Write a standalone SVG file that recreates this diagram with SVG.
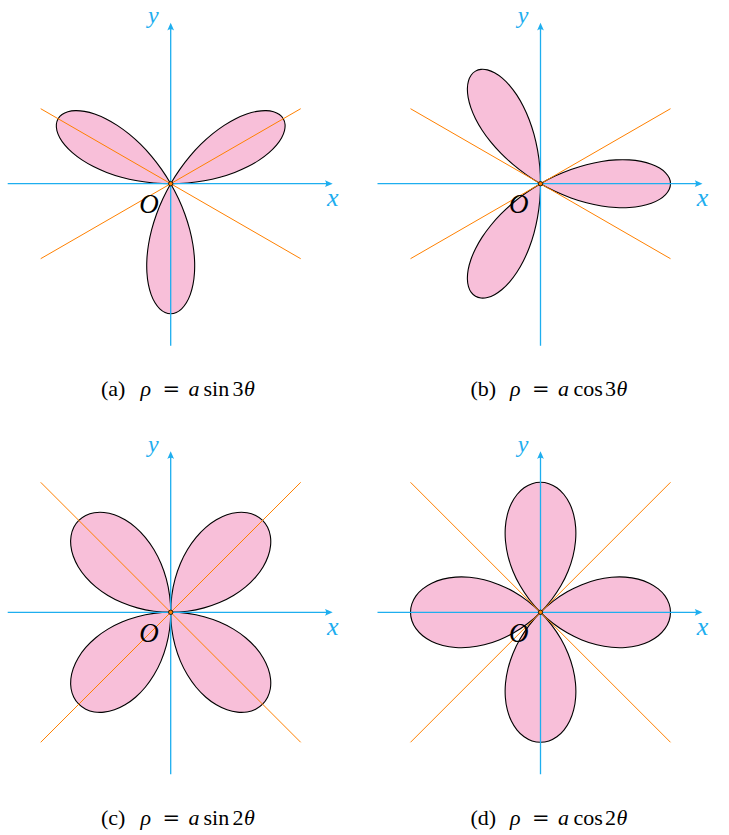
<svg xmlns="http://www.w3.org/2000/svg" xmlns:xlink="http://www.w3.org/1999/xlink" width="729" height="835" viewBox="0 0 729 835">
<style>
.petal{fill:#f8bfd9;stroke:#000;stroke-width:1.1}
.axis{stroke:#1eaeef;stroke-width:1.3;fill:none}
.ah{fill:#1eaeef;stroke:none}
.ray{stroke:#ff8000;stroke-width:1;fill:none}
.dot{fill:#ff8000;stroke:#000;stroke-width:0.8}
.lab{font-family:"Liberation Serif",serif;font-style:italic;font-size:26px;fill:#1eaeef;text-anchor:middle}
.ylab{font-family:"Liberation Serif",serif;font-style:italic;font-size:24px;fill:#1eaeef;text-anchor:middle}
.olab{font-family:"Liberation Serif",serif;font-style:italic;font-size:27px;fill:#000;text-anchor:middle}
.cap{font-family:"Liberation Serif",serif;font-size:22px;fill:#000}
.it{font-style:italic}
.eq{font-family:"DejaVu Serif",serif;font-size:21px}
</style>
<defs>
<path id="p3" d="M0,0 C4.9,2.83 9.97,5.47 15.05,7.84 C20.13,10.21 25.34,12.35 30.49,14.22 C35.64,16.09 40.86,17.71 45.96,19.04 C51.06,20.38 56.16,21.44 61.08,22.23 C66,23.02 70.86,23.54 75.48,23.8 C80.1,24.06 84.59,24.04 88.79,23.79 C92.99,23.54 97.01,23.03 100.69,22.32 C104.37,21.61 107.81,20.66 110.87,19.55 C113.93,18.44 116.7,17.12 119.07,15.68 C121.44,14.25 123.47,12.62 125.09,10.94 C126.71,9.26 127.95,7.44 128.77,5.62 C129.59,3.8 130,1.873 130,0 C130,-1.873 129.59,-3.8 128.77,-5.62 C127.95,-7.44 126.71,-9.26 125.09,-10.94 C123.47,-12.62 121.44,-14.25 119.07,-15.68 C116.7,-17.12 113.93,-18.44 110.87,-19.55 C107.81,-20.66 104.37,-21.61 100.69,-22.32 C97.01,-23.03 92.99,-23.54 88.79,-23.79 C84.59,-24.04 80.1,-24.06 75.48,-23.8 C70.86,-23.54 66,-23.02 61.08,-22.23 C56.16,-21.44 51.06,-20.38 45.96,-19.04 C40.86,-17.71 35.64,-16.09 30.49,-14.22 C25.34,-12.35 20.13,-10.21 15.05,-7.84 C9.97,-5.47 4.9,-2.83 0,0 Z"/>
<path id="p2" d="M0,0 C4,4 8.31,7.78 12.76,11.19 C17.21,14.6 21.93,17.74 26.7,20.48 C31.47,23.22 36.44,25.64 41.37,27.64 C46.3,29.64 51.36,31.27 56.29,32.5 C61.23,33.73 66.21,34.55 70.98,35 C75.75,35.45 80.47,35.49 84.92,35.18 C89.37,34.87 93.7,34.16 97.67,33.15 C101.64,32.14 105.4,30.76 108.75,29.14 C112.11,27.52 115.18,25.56 117.8,23.43 C120.43,21.31 122.7,18.89 124.5,16.39 C126.3,13.89 127.69,11.16 128.61,8.43 C129.53,5.7 130,2.81 130,0 C130,-2.81 129.53,-5.7 128.61,-8.43 C127.69,-11.16 126.3,-13.89 124.5,-16.39 C122.7,-18.89 120.43,-21.31 117.8,-23.43 C115.18,-25.56 112.11,-27.52 108.75,-29.14 C105.4,-30.76 101.64,-32.14 97.67,-33.15 C93.7,-34.16 89.37,-34.87 84.92,-35.18 C80.47,-35.49 75.75,-35.45 70.98,-35 C66.21,-34.55 61.23,-33.73 56.29,-32.5 C51.36,-31.27 46.3,-29.64 41.37,-27.64 C36.44,-25.64 31.47,-23.22 26.7,-20.48 C21.93,-17.74 17.21,-14.6 12.76,-11.19 C8.31,-7.78 4,-4 0,0 Z"/>
<path id="ahd" d="M0,0 L-7.7,-3.4 C-6.2,-1.2 -6.2,1.2 -7.7,3.4 Z"/>
</defs>

<!-- Panel (a) -->
<g id="panel-a" transform="translate(170.7,183.7)">
  <g id="a-petals">
    <use xlink:href="#p3" class="petal" transform="rotate(-30)"/>
    <use xlink:href="#p3" class="petal" transform="rotate(-150)"/>
    <use xlink:href="#p3" class="petal" transform="rotate(90)"/>
  </g>
  <g id="a-connectors">
    <path class="axis" d="M-163,0 H158 M0,162 V-157"/>
    <use xlink:href="#ahd" class="ah" transform="translate(162,0)"/>
    <use xlink:href="#ahd" class="ah" transform="translate(0,-161) rotate(-90)"/>
    <path class="ray" d="M-130,-75 L130,75 M-130,75 L130,-75"/>
  </g>
  <circle class="dot" cx="0" cy="0" r="2.2"/>
  <text class="lab" x="162" y="22.3">x</text>
  <text class="ylab" x="-17.4" y="-160.5">y</text>
  <text class="olab" x="-21.7" y="29.3">O</text>
</g>

<!-- Panel (b) -->
<g id="panel-b" transform="translate(540.5,183.7)">
  <g id="b-petals">
    <use xlink:href="#p3" class="petal"/>
    <use xlink:href="#p3" class="petal" transform="rotate(-120)"/>
    <use xlink:href="#p3" class="petal" transform="rotate(120)"/>
  </g>
  <g id="b-connectors">
    <path class="axis" d="M-163,0 H158 M0,162 V-157"/>
    <use xlink:href="#ahd" class="ah" transform="translate(162,0)"/>
    <use xlink:href="#ahd" class="ah" transform="translate(0,-161) rotate(-90)"/>
    <path class="ray" d="M-130,-75 L130,75 M-130,75 L130,-75"/>
  </g>
  <circle class="dot" cx="0" cy="0" r="2.2"/>
  <text class="lab" x="162" y="22.3">x</text>
  <text class="ylab" x="-17.4" y="-160.5">y</text>
  <text class="olab" x="-21.7" y="29.3">O</text>
</g>

<!-- Panel (c) -->
<g id="panel-c" transform="translate(170.7,612.3)">
  <g id="c-petals">
    <use xlink:href="#p2" class="petal" transform="rotate(-45)"/>
    <use xlink:href="#p2" class="petal" transform="rotate(-135)"/>
    <use xlink:href="#p2" class="petal" transform="rotate(135)"/>
    <use xlink:href="#p2" class="petal" transform="rotate(45)"/>
  </g>
  <g id="c-connectors">
    <path class="axis" d="M-163,0 H158 M0,162 V-157"/>
    <use xlink:href="#ahd" class="ah" transform="translate(162,0)"/>
    <use xlink:href="#ahd" class="ah" transform="translate(0,-161) rotate(-90)"/>
    <path class="ray" d="M-130,-130 L130,130 M-130,130 L130,-130"/>
  </g>
  <circle class="dot" cx="0" cy="0" r="2.2"/>
  <text class="lab" x="162" y="22.3">x</text>
  <text class="ylab" x="-17.4" y="-160.5">y</text>
  <text class="olab" x="-21.7" y="29.3">O</text>
</g>

<!-- Panel (d) -->
<g id="panel-d" transform="translate(540.5,612.3)">
  <g id="d-petals">
    <use xlink:href="#p2" class="petal"/>
    <use xlink:href="#p2" class="petal" transform="rotate(-90)"/>
    <use xlink:href="#p2" class="petal" transform="rotate(180)"/>
    <use xlink:href="#p2" class="petal" transform="rotate(90)"/>
  </g>
  <g id="d-connectors">
    <path class="axis" d="M-163,0 H158 M0,162 V-157"/>
    <use xlink:href="#ahd" class="ah" transform="translate(162,0)"/>
    <use xlink:href="#ahd" class="ah" transform="translate(0,-161) rotate(-90)"/>
    <path class="ray" d="M-130,-130 L130,130 M-130,130 L130,-130"/>
  </g>
  <circle class="dot" cx="0" cy="0" r="2.2"/>
  <text class="lab" x="162" y="22.3">x</text>
  <text class="ylab" x="-17.4" y="-160.5">y</text>
  <text class="olab" x="-21.7" y="29.3">O</text>
</g>

<!-- Captions -->
<g id="captions">
  <text class="cap" y="396"><tspan x="101">(a)</tspan><tspan class="it" x="140.5">ρ</tspan><tspan class="eq" x="162.5">=</tspan><tspan class="it" x="188.5">a</tspan><tspan x="203.5">sin</tspan><tspan x="232.5">3</tspan><tspan class="it" x="244">θ</tspan></text>
  <text class="cap" y="396"><tspan x="470.5">(b)</tspan><tspan class="it" x="510">ρ</tspan><tspan class="eq" x="532">=</tspan><tspan class="it" x="558">a</tspan><tspan x="573.5">cos</tspan><tspan x="605">3</tspan><tspan class="it" x="616.5">θ</tspan></text>
  <text class="cap" y="825"><tspan x="101">(c)</tspan><tspan class="it" x="140.5">ρ</tspan><tspan class="eq" x="162.5">=</tspan><tspan class="it" x="188.5">a</tspan><tspan x="203.5">sin</tspan><tspan x="232.5">2</tspan><tspan class="it" x="244">θ</tspan></text>
  <text class="cap" y="825"><tspan x="470.5">(d)</tspan><tspan class="it" x="510">ρ</tspan><tspan class="eq" x="532">=</tspan><tspan class="it" x="558">a</tspan><tspan x="573.5">cos</tspan><tspan x="605">2</tspan><tspan class="it" x="616.5">θ</tspan></text>
</g>
</svg>
